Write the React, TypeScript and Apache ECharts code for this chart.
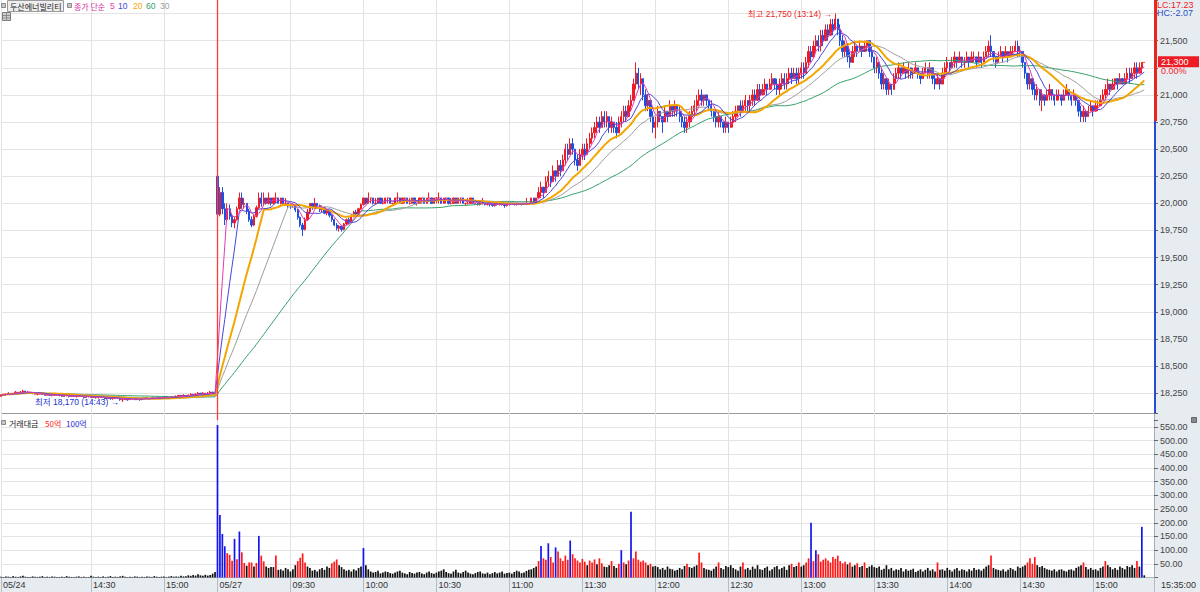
import React, { useEffect, useRef } from 'react';
import * as echarts from 'echarts';

// ---------------- data ----------------
const stockName = '두산에너빌리티';
const maPeriods = [60, 30, 20, 10, 5];
const day1 = '05/24';
const day2 = '05/27';

// [open, close, low, high] per minute, 05/24 13:53 .. 15:20 + 15:30
const day1Candles = [
  [18220,18230,18220,18240],[18230,18240,18230,18240],[18240,18240,18230,18250],[18240,18250,18240,18260],[18250,18240,18240,18250],
  [18240,18250,18240,18250],[18250,18260,18250,18270],[18260,18250,18250,18260],[18250,18260,18250,18270],[18260,18270,18260,18280],
  [18270,18260,18250,18270],[18260,18260,18250,18270],[18260,18250,18250,18260],[18250,18250,18240,18260],[18250,18240,18240,18250],
  [18240,18240,18230,18250],[18240,18250,18240,18260],[18250,18240,18240,18250],[18240,18230,18230,18240],[18230,18240,18230,18250],
  [18240,18230,18230,18240],[18230,18230,18220,18240],[18230,18240,18230,18240],[18240,18230,18230,18240],[18230,18230,18220,18240],
  [18230,18220,18220,18230],[18220,18230,18220,18240],[18230,18230,18220,18240],[18230,18220,18210,18230],[18220,18230,18220,18230],
  [18230,18220,18220,18230],[18220,18220,18210,18230],[18220,18230,18220,18240],[18230,18220,18220,18230],[18220,18210,18210,18220],
  [18210,18220,18210,18220],[18220,18220,18210,18230],[18220,18210,18210,18220],[18210,18220,18210,18230],[18220,18210,18200,18220],
  [18210,18210,18200,18220],[18210,18220,18210,18220],[18220,18210,18210,18220],[18210,18200,18200,18210],[18200,18210,18200,18210],
  [18210,18200,18190,18210],[18200,18200,18190,18210],[18200,18210,18200,18210],[18210,18200,18200,18210],[18200,18190,18180,18200],
  [18190,18190,18170,18200],[18190,18200,18190,18200],[18200,18190,18180,18200],[18190,18200,18190,18200],[18200,18200,18190,18210],
  [18200,18190,18190,18200],[18190,18200,18190,18200],[18200,18190,18180,18200],[18190,18200,18190,18200],[18200,18210,18200,18210],
  [18210,18200,18200,18210],[18200,18200,18190,18210],[18200,18210,18200,18210],[18210,18200,18200,18210],[18200,18210,18200,18220],
  [18210,18200,18200,18210],[18200,18210,18200,18210],[18210,18220,18210,18220],[18220,18210,18210,18220],[18210,18210,18200,18220],
  [18210,18220,18210,18220],[18220,18210,18210,18220],[18210,18220,18210,18230],[18220,18230,18220,18230],[18230,18220,18220,18230],
  [18220,18230,18220,18240],[18230,18220,18220,18230],[18220,18230,18220,18240],[18230,18240,18230,18250],[18240,18230,18230,18240],
  [18230,18240,18230,18250],[18240,18250,18240,18260],[18250,18240,18240,18250],[18240,18250,18240,18260],[18250,18240,18240,18250],
  [18240,18250,18240,18260],[18250,18260,18250,18270],[18260,18250,18250,18260],[18250,18250,18250,18250],
];

// [open, close, low, high] per minute, 05/27 09:00 .. 15:20 + 15:30
const day2Candles = [
  [20250,19900,19850,20300],[19900,20100,19880,20150],[20100,19950,19900,20150],[19950,19850,19800,20000],[19850,19950,19830,20000],
  [19950,19880,19850,19990],[19880,19820,19780,19900],[19820,19850,19770,19880],[19850,19950,19840,19970],[19950,20050,19940,20100],
  [20050,19990,19950,20100],[19990,20000,19950,20050],[20000,19930,19900,20000],[19930,19850,19830,19950],[19850,19800,19780,19880],
  [19800,19880,19790,19900],[19880,19960,19870,19980],[19960,20050,19950,20100],[20050,20000,19970,20100],[20000,20050,19980,20100],
  [20050,20000,19990,20050],[20000,20050,19990,20100],[20050,20000,19980,20050],[20000,20050,19990,20050],[20050,20050,20000,20100],
  [20050,20000,20000,20050],[20000,20050,19990,20050],[20050,20000,19990,20050],[20000,20000,19980,20050],[20000,19990,19960,20000],
  [19990,19980,19950,20000],[19980,19990,19960,20000],[19990,19940,19920,19990],[19940,19870,19850,19950],[19870,19800,19780,19880],
  [19800,19760,19700,19820],[19760,19850,19750,19870],[19850,19920,19840,19950],[19920,20000,19900,20000],[20000,19960,19940,20000],
  [19960,20000,19950,20050],[20000,19980,19950,20000],[19980,19940,19920,19990],[19940,19960,19920,19980],[19960,19910,19900,19970],
  [19910,19930,19890,19950],[19930,19890,19870,19940],[19890,19850,19830,19900],[19850,19800,19790,19860],[19800,19770,19750,19820],
  [19770,19790,19740,19800],[19790,19760,19740,19800],[19760,19810,19750,19820],[19810,19850,19800,19860],[19850,19830,19810,19870],
  [19830,19880,19820,19900],[19880,19920,19870,19930],[19920,19900,19880,19940],[19900,19950,19890,19960],[19950,19990,19940,20000],
  [19990,20050,19980,20050],[20050,20000,19990,20050],[20000,20050,20000,20100],[20050,20050,20000,20050],[20050,20000,19990,20050],
  [20000,20000,19990,20050],[20000,20050,20000,20050],[20050,20000,20000,20050],[20000,20000,19990,20050],[20000,20050,20000,20050],
  [20050,20050,20000,20050],[20050,20000,20000,20050],[20000,20000,19990,20000],[20000,20050,20000,20050],[20050,20050,20000,20100],
  [20050,20000,20000,20050],[20000,20050,20000,20050],[20050,20050,20000,20050],[20050,20000,20000,20050],[20000,20000,19990,20050],
  [20000,20050,20000,20050],[20050,20000,20000,20050],[20000,20000,19980,20000],[20000,20050,20000,20050],[20050,20050,20000,20050],
  [20050,20000,20000,20050],[20000,20050,20000,20050],[20050,20050,20050,20100],[20050,20000,20000,20050],[20000,20050,20000,20050],
  [20050,20050,20000,20050],[20050,20050,20000,20100],[20050,20000,20000,20050],[20000,20050,20000,20050],[20050,20050,20000,20050],
  [20050,20000,19990,20050],[20000,20000,19990,20050],[20000,20050,20000,20050],[20050,20000,20000,20050],[20000,20050,20000,20050],
  [20050,20050,20000,20050],[20050,20000,20000,20050],[20000,20000,19980,20000],[20000,20000,19990,20050],[20000,20050,20000,20050],
  [20050,20000,20000,20050],[20000,20000,19990,20000],[20000,19990,19980,20000],[19990,20000,19980,20000],[20000,20000,19990,20050],
  [20000,19990,19980,20000],[19990,20000,19980,20000],[20000,19990,19970,20000],[19990,19980,19970,20000],[19980,20000,19970,20000],
  [20000,19990,19980,20000],[19990,20000,19980,20000],[20000,19990,19980,20000],[19990,19980,19960,19990],[19980,20000,19970,20000],
  [20000,19990,19980,20000],[19990,20000,19990,20000],[20000,19990,19980,20000],[19990,20000,19980,20000],[20000,20000,19990,20000],
  [20000,19990,19980,20000],[19990,20000,19990,20000],[20000,20000,19990,20050],[20000,20000,19990,20000],[20000,20050,20000,20050],
  [20050,20000,20000,20050],[20000,20050,20000,20050],[20050,20100,20050,20150],[20100,20150,20050,20200],[20150,20100,20050,20150],
  [20100,20200,20100,20250],[20200,20250,20150,20300],[20250,20200,20150,20250],[20200,20300,20200,20350],[20300,20250,20200,20300],
  [20250,20350,20250,20400],[20350,20300,20250,20400],[20300,20400,20300,20450],[20400,20500,20350,20550],[20500,20450,20400,20550],
  [20450,20550,20450,20600],[20550,20500,20450,20600],[20500,20400,20350,20500],[20400,20350,20300,20450],[20350,20450,20350,20500],
  [20450,20500,20400,20550],[20500,20450,20400,20550],[20450,20550,20450,20600],[20550,20600,20500,20650],[20600,20650,20550,20700],
  [20650,20700,20600,20750],[20700,20750,20650,20800],[20750,20700,20650,20800],[20700,20800,20700,20850],[20800,20750,20700,20850],
  [20750,20800,20700,20850],[20800,20700,20650,20800],[20700,20750,20650,20800],[20750,20700,20650,20750],[20700,20650,20600,20750],
  [20650,20750,20650,20800],[20750,20800,20700,20850],[20800,20850,20750,20900],[20850,20800,20750,20900],[20800,20900,20800,20950],
  [20900,20950,20850,21000],[20950,21100,20950,21150],[21100,21200,21050,21300],[21200,21100,21050,21250],[21100,21150,21000,21200],
  [21150,21000,20950,21150],[21000,20900,20850,21050],[20900,20950,20850,21000],[20950,20800,20750,20950],[20800,20700,20650,20850],
  [20700,20750,20600,20800],[20750,20850,20700,20900],[20850,20800,20750,20850],[20800,20750,20650,20800],[20750,20850,20750,20900],
  [20850,20800,20750,20850],[20800,20900,20800,20950],[20900,20850,20800,20900],[20850,20900,20800,20950],[20900,20850,20800,20900],
  [20850,20800,20750,20900],[20800,20750,20700,20850],[20750,20700,20650,20800],[20700,20750,20650,20800],[20750,20800,20700,20850],
  [20800,20850,20750,20900],[20850,20900,20800,20950],[20900,20950,20850,21000],[20950,21000,20900,21050],[21000,20950,20900,21050],
  [20950,21000,20900,21000],[21000,20950,20900,21000],[20950,20900,20850,20950],[20900,20850,20800,20950],[20850,20800,20750,20850],
  [20800,20750,20700,20850],[20750,20800,20700,20850],[20800,20750,20700,20800],[20750,20700,20650,20750],[20700,20750,20650,20800],
  [20750,20700,20650,20750],[20700,20750,20700,20800],[20750,20800,20700,20850],[20800,20850,20750,20900],[20850,20900,20800,20900],
  [20900,20850,20800,20950],[20850,20900,20850,20950],[20900,20950,20850,21000],[20950,20900,20850,20950],[20900,20950,20850,21000],
  [20950,21000,20900,21050],[21000,20950,20900,21050],[20950,21050,20950,21100],[21050,21000,20950,21100],[21000,21050,21000,21100],
  [21050,21100,21000,21150],[21100,21050,21000,21100],[21050,21100,21050,21150],[21100,21150,21050,21200],[21150,21100,21050,21150],
  [21100,21050,21000,21150],[21050,21100,21000,21150],[21100,21150,21050,21200],[21150,21100,21050,21200],[21100,21150,21050,21200],
  [21150,21200,21100,21250],[21200,21150,21100,21250],[21150,21200,21150,21250],[21200,21150,21100,21250],[21150,21200,21100,21250],
  [21200,21250,21150,21300],[21250,21200,21150,21300],[21200,21300,21200,21350],[21300,21400,21250,21450],[21400,21350,21300,21450],
  [21350,21450,21350,21500],[21450,21500,21400,21550],[21500,21450,21400,21550],[21450,21550,21400,21600],[21550,21500,21450,21600],
  [21500,21600,21500,21650],[21600,21550,21500,21650],[21550,21650,21550,21700],[21650,21600,21550,21700],[21600,21700,21600,21750],
  [21700,21600,21550,21700],[21600,21500,21450,21650],[21500,21400,21350,21550],[21400,21450,21350,21500],[21450,21350,21300,21450],
  [21350,21300,21250,21400],[21300,21400,21300,21450],[21400,21450,21350,21500],[21450,21400,21350,21450],[21400,21450,21400,21500],
  [21450,21400,21350,21450],[21400,21450,21400,21500],[21450,21500,21400,21500],[21500,21400,21350,21500],[21400,21350,21300,21450],
  [21350,21250,21200,21350],[21250,21300,21200,21350],[21300,21200,21150,21300],[21200,21100,21050,21250],[21100,21150,21050,21200],
  [21150,21050,21000,21150],[21050,21100,21000,21150],[21100,21050,21000,21100],[21050,21150,21050,21200],[21150,21200,21100,21250],
  [21200,21250,21150,21300],[21250,21200,21150,21250],[21200,21250,21200,21300],[21250,21200,21150,21250],[21200,21250,21150,21300],
  [21250,21200,21150,21250],[21200,21200,21150,21250],[21200,21250,21200,21300],[21250,21200,21150,21250],[21200,21150,21100,21200],
  [21150,21200,21150,21250],[21200,21250,21200,21300],[21250,21200,21150,21250],[21200,21250,21150,21300],[21250,21150,21100,21250],
  [21150,21100,21050,21200],[21100,21150,21100,21200],[21150,21100,21050,21150],[21100,21200,21100,21250],[21200,21250,21150,21300],
  [21250,21300,21200,21350],[21300,21250,21200,21300],[21250,21300,21250,21350],[21300,21350,21250,21400],[21350,21300,21250,21350],
  [21300,21350,21300,21400],[21350,21300,21250,21350],[21300,21300,21250,21350],[21300,21350,21300,21400],[21350,21300,21250,21350],
  [21300,21350,21300,21400],[21350,21350,21300,21400],[21350,21300,21250,21350],[21300,21350,21300,21400],[21350,21300,21250,21350],
  [21300,21350,21300,21400],[21350,21400,21350,21450],[21400,21450,21350,21500],[21450,21400,21350,21550],[21400,21350,21300,21400],
  [21350,21300,21250,21350],[21300,21350,21300,21400],[21350,21400,21350,21450],[21400,21350,21300,21400],[21350,21400,21350,21450],
  [21400,21350,21300,21400],[21350,21400,21350,21450],[21400,21400,21350,21450],[21400,21450,21400,21500],[21450,21400,21350,21500],
  [21400,21400,21350,21450],[21400,21300,21250,21400],[21300,21200,21150,21300],[21200,21100,21050,21200],[21100,21150,21050,21200],
  [21150,21050,21000,21150],[21050,21000,20950,21100],[21000,21050,20950,21100],[21050,20950,20900,21050],[20950,21000,20850,21050],
  [21000,20950,20900,21000],[20950,21000,20950,21050],[21000,21050,20950,21100],[21050,21000,20950,21050],[21000,20950,20900,21000],
  [20950,21000,20950,21050],[21000,21000,20950,21050],[21000,20950,20900,21000],[20950,21000,20950,21050],[21000,21050,21000,21100],
  [21050,21000,20950,21050],[21000,20950,20900,21000],[20950,21000,20950,21050],[21000,20950,20900,21000],[20950,20850,20800,20950],
  [20850,20800,20750,20900],[20800,20850,20750,20900],[20850,20800,20750,20850],[20800,20850,20800,20900],[20850,20900,20850,20950],
  [20900,20850,20800,20900],[20850,20900,20850,20950],[20900,20900,20850,20950],[20900,20950,20900,21000],[20950,21000,20950,21050],
  [21000,21050,20950,21100],[21050,21100,21000,21150],[21100,21050,21000,21100],[21050,21100,21050,21150],[21100,21150,21050,21150],
  [21150,21100,21050,21150],[21100,21150,21100,21200],[21150,21100,21100,21150],[21100,21150,21100,21200],[21150,21200,21100,21250],
  [21200,21150,21100,21250],[21150,21200,21150,21250],[21200,21250,21150,21300],[21250,21200,21150,21300],[21200,21250,21200,21300],
  [21250,21300,21200,21300],[21300,21300,21300,21300],
];

// 거래대금 (억) per minute
const day1Value = [
  3,2,4,3,2,5,3,2,4,6, 3,2,2,4,3,2,3,5,2,3, 2,4,3,2,2,3,2,5,3,2, 2,3,4,2,3,2,2,6,3,2,
  3,2,4,2,3,5,2,3,2,4, 6,3,2,3,2,4,3,2,3,2, 4,3,2,5,3,2,3,4,2,3, 5,3,4,3,6,4,5,8,6,9,
  7,12,8,6,10,7,9,14,20,
];
const day2Value = [
  557,228,159,114,89,83,61,141,67,168, 92,53,43,55,55,40,53,152,80,59, 40,35,38,38,80,28,30,25,35,30,
  22,30,45,60,72,88,55,40,35,25, 28,22,30,35,28,40,35,52,58,66, 45,38,30,25,28,22,30,26,35,40,
  108,45,30,22,18,20,25,15,18,22, 20,16,14,18,22,25,18,15,12,20, 16,14,18,20,15,12,18,22,16,14,
  18,22,25,30,20,16,14,22,28,18, 15,20,25,18,14,12,16,20,22,15, 14,18,12,16,20,15,18,22,14,16,
  18,14,20,25,22,16,18,24,28,30,35,40,
  60,115,70,65,125,75,55,110,95,70, 60,80,65,135,85,70,62,55,68,
  58,45,62,55,66,48,70,52,40,38, 45,60,42,35,50,100,55,48,62,240,
  70,95,65,58,62,55,45,50,40,42, 38,30,35,28,40,32,30,25,28,35,
  30,42,50,38,35,40,45,90,55,35, 30,28,25,32,40,55,35,30,42,38,
  45,35,30,25,40,55,30,35,28,40, 32,45,30,28,35,40,25,30,38,42, 30,35,40,28,45,50,38,42,55,40,
  45,55,70,200,60,100,85,58,65,70, 62,55,75,68,80,60,52,58,48,55, 40,45,52,38,42,55,35,40,45,38,
  35,40,28,32,45,30,35,25,30,28, 35,22,30,25,28,32,20,25,30,22, 28,35,25,30,22,55,28,30,25,35,
  28,22,30,35,25,30,28,22,30,25, 35,28,30,25,32,40,45,80,35,30, 28,25,30,22,28,35,30,25,40,35,
  40,45,55,70,50,75,45,38,42,35, 30,28,25,30,22,28,30,25,22,28, 30,25,35,40,45,55,38,30,35,28,
  30,25,35,40,60,45,38,30,35,28, 40,35,30,42,38,45,35,60,40,185,8,
];

// x-axis tick labels: [category key, label]
const xTicks: [string, string][] = [
  ['05/24 13:53', '05/24'], ['05/24 14:30', '14:30'], ['05/24 15:00', '15:00'],
  ['05/27 09:00', '05/27'], ['05/27 09:30', '09:30'], ['05/27 10:00', '10:00'], ['05/27 10:30', '10:30'],
  ['05/27 11:00', '11:00'], ['05/27 11:30', '11:30'], ['05/27 12:00', '12:00'], ['05/27 12:30', '12:30'],
  ['05/27 13:00', '13:00'], ['05/27 13:30', '13:30'], ['05/27 14:00', '14:00'], ['05/27 14:30', '14:30'],
  ['05/27 15:00', '15:00'],
];
const dayBreakKey = '05/27 09:00';
const priceTicksHidden = [18000, 21250, 21750, 21875];
const clockText = '15:35:00';

// ---------------- helpers ----------------
const RED = '#EE1C25';
const BLUE = '#1F4FE0';
const VRED = '#FF1A1A';
const VBLUE = '#1414EE';
const maColor: Record<number, string> = { 5: '#E03CB0', 10: '#4646D8', 20: '#F2A600', 30: '#9C9C9C', 60: '#34A068' };
const maWidth: Record<number, number> = { 5: 1, 10: 1, 20: 2, 30: 1, 60: 1 };
const FNUM = '"Liberation Sans", "Noto Sans CJK KR", sans-serif';
const FKR = '"Noto Sans CJK KR", sans-serif';

function minuteKeys(day: string, start: string, count: number) {
  const [h, m] = start.split(':').map(Number);
  const out: string[] = [];
  for (let i = 0; i < count; i++) {
    const t = h * 60 + m + i;
    out.push(`${day} ${String(Math.floor(t / 60)).padStart(2, '0')}:${String(t % 60).padStart(2, '0')}`);
  }
  return out;
}
const fmt = (v: number) => v.toLocaleString('en-US');

function sma(closes: number[], n: number) {
  return closes.map((_, i) => {
    const s = Math.max(0, i - n + 1);
    let sum = 0;
    for (let j = s; j <= i; j++) sum += closes[j];
    return +(sum / (i - s + 1)).toFixed(2);
  });
}

export default function App() {
  const ref = useRef<HTMLDivElement>(null);

  useEffect(() => {
    if (!ref.current) return;
    const chart = echarts.init(ref.current, undefined, { renderer: 'svg' });

    const times = [
      ...minuteKeys(day1, '13:53', day1Candles.length - 1), `${day1} 15:30`,
      ...minuteKeys(day2, '09:00', day2Candles.length - 1), `${day2} 15:30`,
    ];
    const cats = [...times, 'pad1', 'pad2', 'pad3', 'pad4'];
    const candles = [...day1Candles, ...day2Candles];
    const values = [...day1Value, ...day2Value];
    const closes = candles.map((c) => c[1]);
    const tickMap = new Map(xTicks);
    const tickInterval = (_i: number, v: string) => tickMap.has(v);
    const priceGridInterval = (_i: number, v: string) => tickMap.has(v) && v !== dayBreakKey;

    // extremes
    let hiIdx = 0, loIdx = 0;
    candles.forEach((c, i) => {
      if (c[3] > candles[hiIdx][3]) hiIdx = i;
      if (c[2] < candles[loIdx][2]) loIdx = i;
    });
    const hi = candles[hiIdx][3];
    const lo = candles[loIdx][2];
    const last = closes[closes.length - 1];
    const prev = closes[closes.length - 2];
    const lc = ((last - lo) / lo) * 100;
    const hc = ((last - hi) / hi) * 100;
    const chg = ((last - prev) / prev) * 100;
    const timeOf = (i: number) => times[i].split(' ')[1];

    const nPriceLines = 17;
    const priceHColors = Array.from({ length: nPriceLines }, (_, i) => (i === 0 || i === nPriceLines - 1 ? 'rgba(0,0,0,0)' : '#E4E4E4'));
    const volHColors = Array.from({ length: 13 }, (_, i) => (i === 0 ? 'rgba(0,0,0,0)' : i === 12 ? '#9A9A9A' : '#E4E4E4'));

    const maSeries = maPeriods.map((p) => ({
      type: 'line',
      name: `MA${p}`,
      xAxisIndex: 0,
      yAxisIndex: 0,
      data: sma(closes, p),
      symbol: 'none',
      showSymbol: false,
      z: 3,
      lineStyle: { color: maColor[p], width: maWidth[p] },
      silent: true,
    }));

    const legendText = (text: string, x: number, y: number, fill: string, size = 8.5, font = FKR) => ({
      type: 'text',
      x,
      y,
      z: 10,
      style: { text, fill, fontSize: size, fontFamily: font, verticalAlign: 'middle', align: 'left' },
    });

    const option: any = {
      animation: false,
      backgroundColor: '#ffffff',
      grid: [
        { left: 1, right: 46, top: -2.95, height: 423.25 },
        { left: 1, right: 46, top: 413.3, height: 164.2 },
      ],
      xAxis: [
        {
          type: 'category', gridIndex: 0, data: cats, boundaryGap: false,
          axisLine: { show: false, onZero: false }, axisTick: { show: false }, axisLabel: { show: false },
          splitLine: { show: true, interval: priceGridInterval, lineStyle: { color: '#E2E2E2', width: 1 } },
        },
        {
          type: 'category', gridIndex: 1, data: cats, boundaryGap: false,
          axisLine: { show: true, onZero: false, lineStyle: { color: '#AEB6BE' } },
          axisTick: { show: true, interval: tickInterval, length: 15, lineStyle: { color: '#B4BCC4' } },
          axisLabel: {
            show: true, interval: tickInterval, formatter: (v: string) => tickMap.get(v) ?? '',
            fontSize: 9, fontFamily: FNUM, color: '#333', align: 'left', margin: 3, padding: [0, 0, 0, 2],
          },
          splitLine: { show: true, interval: tickInterval, lineStyle: { color: '#E2E2E2', width: 1 } },
        },
      ],
      yAxis: [
        {
          type: 'value', gridIndex: 0, position: 'right', min: 18000, max: 21875, interval: 250,
          axisLine: { show: true, onZero: false, lineStyle: { color: '#A4ACB4' } },
          axisTick: { show: true, length: 4, lineStyle: { color: '#666' } },
          axisLabel: {
            margin: 6, fontSize: 9, fontFamily: FNUM, color: '#444',
            formatter: (v: number) => (priceTicksHidden.includes(v) ? '' : fmt(v)),
          },
          splitLine: { show: true, lineStyle: { color: priceHColors, width: 1 } },
        },
        {
          type: 'value', gridIndex: 1, position: 'right', min: 0, max: 600, interval: 50,
          axisLine: { show: true, onZero: false, lineStyle: { color: '#A4ACB4' } },
          axisTick: { show: true, length: 4, lineStyle: { color: '#666' } },
          axisLabel: {
            margin: 6, fontSize: 9, fontFamily: FNUM, color: '#444',
            formatter: (v: number) => (v === 0 || v === 600 ? '' : v.toFixed(2)),
          },
          splitLine: { show: true, lineStyle: { color: volHColors, width: 1 } },
        },
      ],
      series: [
        {
          type: 'candlestick',
          name: stockName,
          xAxisIndex: 0,
          yAxisIndex: 0,
          data: candles,
          barWidth: 1.8,
          z: 2,
          itemStyle: { color: RED, color0: BLUE, borderColor: RED, borderColor0: BLUE, borderWidth: 1 },
          markPoint: {
            symbol: 'rect', symbolSize: 1, silent: true,
            itemStyle: { color: 'rgba(0,0,0,0)' },
            data: [
              {
                coord: [cats[hiIdx], hi],
                label: { show: true, position: 'left', distance: 3, formatter: `최고 ${fmt(hi)} (${timeOf(hiIdx)}) →`, color: RED, fontSize: 8.5, fontFamily: FNUM },
              },
              {
                coord: [cats[loIdx], lo],
                label: { show: true, position: 'left', distance: 3, formatter: `최저 ${fmt(lo)} (${timeOf(loIdx)}) →`, color: '#2030D0', fontSize: 8.5, fontFamily: FNUM },
              },
            ],
          },
          markLine: {
            silent: true, symbol: ['none', 'none'], z: 4,
            data: [
              {
                xAxis: dayBreakKey,
                lineStyle: { color: '#FF3B3B', width: 1.3, type: 'solid', opacity: 1 },
                label: { show: false },
              },
              {
                yAxis: last,
                lineStyle: { color: 'rgba(0,0,0,0)', width: 0, type: 'solid' },
                label: {
                  show: true, position: 'end', distance: 4, padding: [8, 0, 0, 0],
                  formatter: `{a|${fmt(last)}}\n{b|${chg.toFixed(2)}%}`,
                  rich: {
                    a: { backgroundColor: RED, color: '#fff', fontSize: 9, fontFamily: FNUM, width: 38, height: 10, lineHeight: 10, padding: [1, 0, 0, 3] },
                    b: { color: RED, fontSize: 9, fontFamily: FNUM, lineHeight: 9, padding: [0, 0, 0, 3] },
                  },
                },
              },
            ],
          },
        },
        ...maSeries,
        {
          type: 'bar',
          name: '거래대금',
          xAxisIndex: 1,
          yAxisIndex: 1,
          barWidth: 1.7,
          data: values.map((v) => ({ value: v, itemStyle: { color: v >= 100 ? VBLUE : v >= 50 ? VRED : '#111' } })),
          silent: true,
        },
      ],
      graphic: [
        { type: 'rect', z: -10, shape: { x: 1154, y: 0, width: 46, height: 578 }, style: { fill: '#E7ECF1' } },
        { type: 'rect', z: -10, shape: { x: 0, y: 577.5, width: 1200, height: 15 }, style: { fill: '#E7ECF1' } },
        // price-range bar along the right axis
        { type: 'rect', z: 6, shape: { x: 1154, y: 0, width: 3, height: 121 }, style: { fill: '#E8261E' } },
        { type: 'rect', z: 6, shape: { x: 1154, y: 121, width: 2, height: 292 }, style: { fill: '#2A4CD0' } },
        { type: 'line', z: 5, shape: { x1: 1154.5, y1: 577.5, x2: 1154.5, y2: 592 }, style: { stroke: '#B4BCC4' } },
        legendText(clockText, 1161, 585, '#333', 9, FNUM),
        // top-left legend
        { type: 'rect', z: 10, shape: { x: 1.5, y: 3.5, width: 4, height: 4 }, style: { fill: '#C8C8C8', stroke: '#8A8A8A', lineWidth: 1 } },
        { type: 'rect', z: 10, shape: { x: 7.5, y: 0.5, width: 56, height: 11 }, style: { fill: '#EEEEEE', stroke: '#9A9A9A', lineWidth: 1 } },
        legendText(stockName, 10, 6, '#222', 8),
        { type: 'rect', z: 10, shape: { x: 67.5, y: 3.5, width: 4, height: 4 }, style: { fill: '#C8C8C8', stroke: '#8A8A8A', lineWidth: 1 } },
        legendText('종가 단순', 74, 6, '#D8309C', 8),
        legendText('5', 110, 6, maColor[5], 8.5, FNUM),
        legendText('10', 118, 6, maColor[10], 8.5, FNUM),
        legendText('20', 133, 6, maColor[20], 8.5, FNUM),
        legendText('60', 146, 6, maColor[60], 8.5, FNUM),
        legendText('30', 160, 6, maColor[30], 8.5, FNUM),
        { type: 'rect', z: 10, shape: { x: 2.5, y: 12.5, width: 8, height: 8 }, style: { fill: '#D0D0D0', stroke: '#7A7A7A', lineWidth: 1 } },
        { type: 'line', z: 11, shape: { x1: 2.5, y1: 15.5, x2: 10.5, y2: 15.5 }, style: { stroke: '#8A8A8A' } },
        { type: 'line', z: 11, shape: { x1: 2.5, y1: 18, x2: 10.5, y2: 18 }, style: { stroke: '#8A8A8A' } },
        { type: 'line', z: 11, shape: { x1: 6.5, y1: 12.5, x2: 6.5, y2: 20.5 }, style: { stroke: '#8A8A8A' } },
        // volume legend
        { type: 'rect', z: 10, shape: { x: 1.5, y: 420.5, width: 4, height: 4 }, style: { fill: '#C8C8C8', stroke: '#8A8A8A', lineWidth: 1 } },
        legendText('거래대금', 9, 423, '#222', 8),
        legendText('50억', 45, 423, VRED, 8),
        legendText('100억', 66, 423, '#2828D8', 8),
        { type: 'rect', z: 10, shape: { x: 1191.5, y: 417.5, width: 5, height: 5 }, style: { fill: '#8A8A8A', stroke: '#666', lineWidth: 1 } },
        // LC / HC
        legendText(`LC:${lc.toFixed(2)}`, 1157, 5, RED, 9, FNUM),
        legendText(`HC:${hc.toFixed(2)}`, 1157, 13, '#2A4CC8', 9, FNUM),
      ],
    };

    chart.setOption(option);
    return () => chart.dispose();
  }, []);

  return (
    <div
      ref={ref}
      style={{ position: 'absolute', left: 0, top: 0, width: 1200, height: 592, background: '#fff' }}
    />
  );
}
